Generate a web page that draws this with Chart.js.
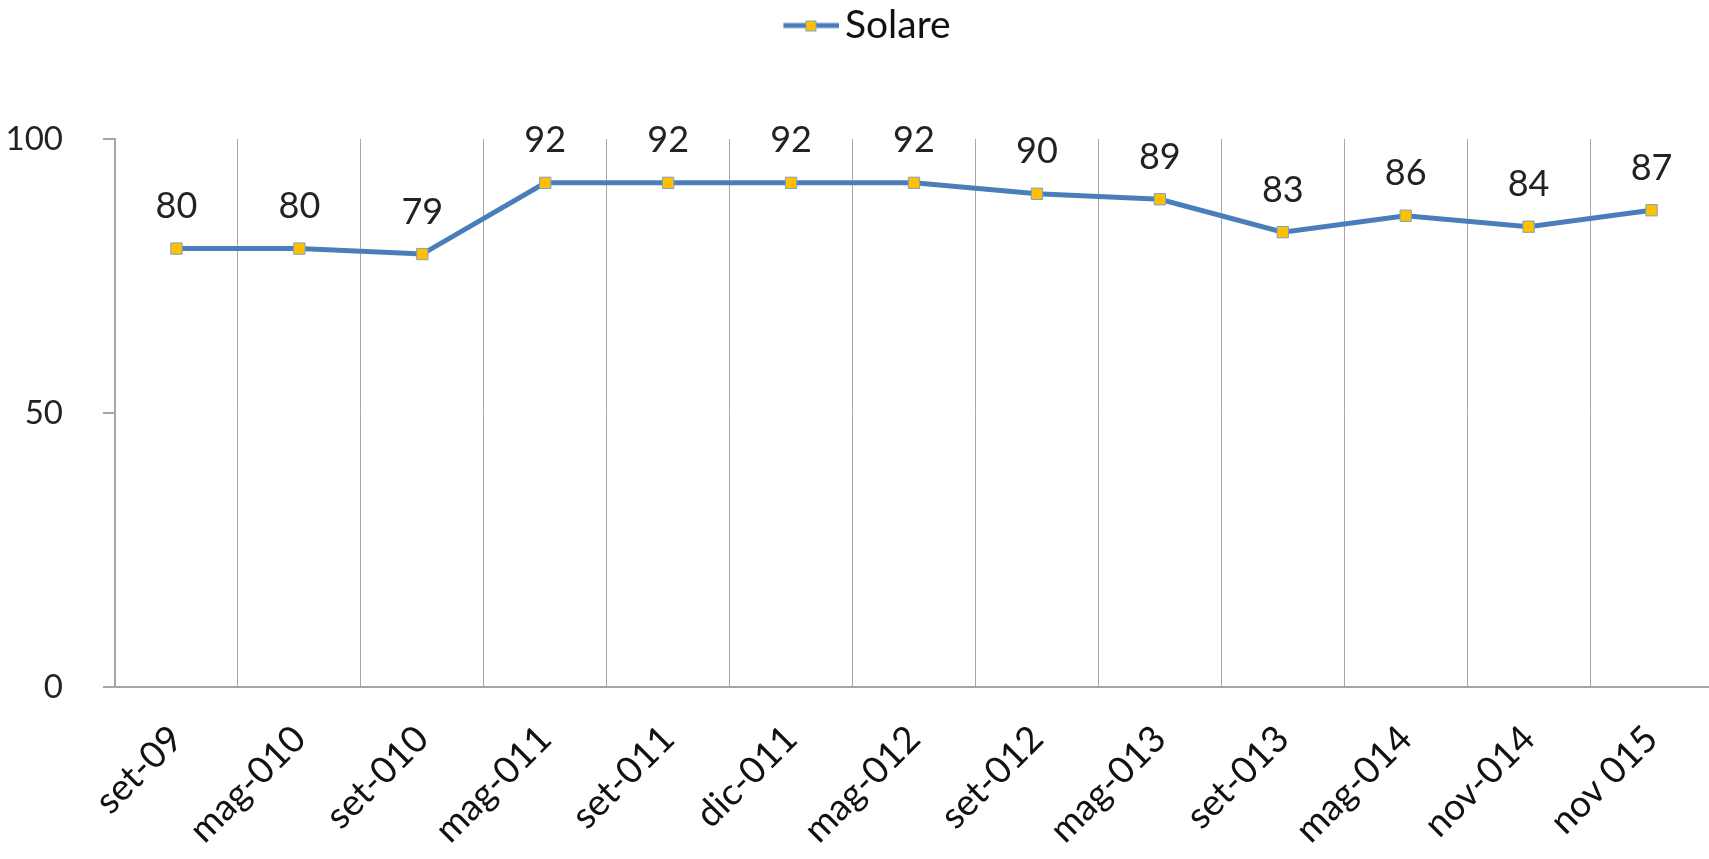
<!DOCTYPE html>
<html>
<head>
<meta charset="utf-8">
<script src="https://cdn.jsdelivr.net/npm/chart.js@4.4.1/dist/chart.umd.min.js"></script>
<style>
  html, body { margin: 0; padding: 0; background: #fff; overflow: hidden; }
  #wrap { width: 1722px; height: 859px; }
</style>
</head>
<body>
<div id="wrap"><canvas id="chart" width="1722" height="859"></canvas></div>
<script>
  // periods and values
  var periods = ['set-09', 'mag-010', 'set-010', 'mag-011', 'set-011', 'dic-011', 'mag-012',
                 'set-012', 'mag-013', 'set-013', 'mag-014', 'nov-014', 'nov 015'];
  var solare = [80, 80, 79, 92, 92, 92, 92, 90, 89, 83, 86, 84, 87];
  var yTicks = [0, 50, 100];

  var fontFamily = 'Lato, "Open Sans", sans-serif';
  var lineColor = '#4a7ebb';
  var markerColor = '#ffc000';
  var markerBorder = '#7f9fc7';
  var gridColor = '#a6a6a6';

  // legend icon: short line with a square marker; drawn on the right part of a wider
  // canvas so it sits closer to the legend text
  var legendIcon = document.createElement('canvas');
  legendIcon.width = 84;
  legendIcon.height = 16;
  (function() {
    var c = legendIcon.getContext('2d');
    c.strokeStyle = lineColor;
    c.lineWidth = 5;
    c.beginPath();
    c.moveTo(28, 8);
    c.lineTo(84, 8);
    c.stroke();
    c.fillStyle = markerColor;
    c.fillRect(50, 3, 11, 11);
    c.strokeStyle = markerBorder;
    c.lineWidth = 1;
    c.strokeRect(50.5, 3.5, 10, 10);
  })();

  var legendSpacing = {
    id: 'legendSpacing',
    beforeInit: function(chart) {
      var fit = chart.legend.fit;
      chart.legend.fit = function() {
        fit.bind(chart.legend)();
        this.height = 139;
      };
    }
  };

  var valueLabels = {
    id: 'valueLabels',
    afterDatasetsDraw: function(chart) {
      var ctx = chart.ctx;
      var meta = chart.getDatasetMeta(0);
      ctx.save();
      ctx.font = '36px ' + fontFamily;
      ctx.fillStyle = '#222';
      ctx.textAlign = 'center';
      ctx.textBaseline = 'middle';
      meta.data.forEach(function(pt, i) {
        ctx.fillText(String(solare[i]), pt.x, pt.y - 42);
      });
      ctx.restore();
    }
  };

  new Chart(document.getElementById('chart'), {
    type: 'line',
    data: {
      labels: periods,
      datasets: [{
        label: 'Solare',
        data: solare,
        borderColor: lineColor,
        borderWidth: 5,
        tension: 0,
        pointStyle: 'rect',
        pointRadius: 8,
        pointHoverRadius: 8,
        pointBackgroundColor: markerColor,
        pointBorderColor: markerBorder,
        pointBorderWidth: 1,
        clip: false
      }]
    },
    options: {
      responsive: false,
      animation: false,
      layout: { padding: { left: 0, right: 2, top: 0, bottom: 0 } },
      plugins: {
        tooltip: { enabled: false },
        legend: {
          position: 'top',
          labels: {
            usePointStyle: true,
            pointStyle: legendIcon,
            pointStyleWidth: 56,
            padding: 6,
            color: '#111',
            font: { family: fontFamily, size: 39 }
          }
        }
      },
      scales: {
        x: {
          offset: true,
          grid: { offset: true, color: gridColor, lineWidth: 1, drawTicks: false },
          border: { color: gridColor, width: 2 },
          ticks: {
            minRotation: 45,
            maxRotation: 45,
            autoSkip: false,
            padding: 30,
            color: '#111',
            font: { family: fontFamily, size: 37 }
          },
          afterFit: function(scale) { scale.height = 172; }
        },
        y: {
          min: 0,
          max: 100,
          grid: { drawOnChartArea: false, drawTicks: true, tickLength: 12, color: gridColor, lineWidth: 2 },
          border: { color: gridColor, width: 2 },
          afterBuildTicks: function(scale) {
            scale.ticks = yTicks.map(function(v) { return { value: v }; });
          },
          ticks: {
            padding: 40,
            color: '#222',
            font: { family: fontFamily, size: 33 }
          },
          afterFit: function(scale) { scale.width = 115; }
        }
      }
    },
    plugins: [legendSpacing, valueLabels]
  });
</script>
</body>
</html>
